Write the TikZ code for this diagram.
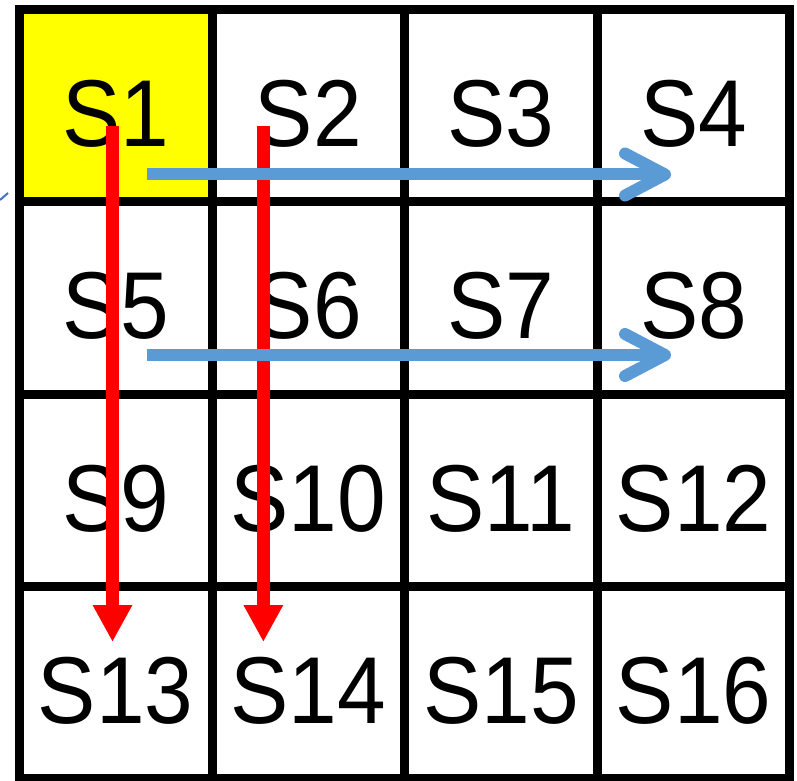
\documentclass[tikz,border=0pt]{standalone}
\usepackage{fontspec}
\setmainfont{Liberation Sans}
\usetikzlibrary{arrows.meta}
\definecolor{cellyellow}{RGB}{255,255,0}
\definecolor{moveblue}{RGB}{91,155,213}
\definecolor{stubblue}{RGB}{68,114,196}
\newcommand{\cellfont}{\fontsize{95}{95}\selectfont}
\newcommand{\lbl}[1]{\scalebox{0.92}[1]{#1}}
\begin{document}
\begin{tikzpicture}[x=1pt,y=1pt,
  cell/.style={draw, line width=9pt, minimum width=192.6pt, minimum height=192pt,
    inner sep=0pt, text height=82pt, text depth=0pt, font=\cellfont},
  down/.style={-{Triangle[length=37pt,width=37pt]}, line width=13pt, red},
  across/.style={-{Straight Barb[length=40pt,width=42pt,round]}, line width=12pt,
    moveblue}]
  \useasboundingbox (0,0) rectangle (797,780);
  % 4x4 grid of states
  \foreach \r in {0,...,3}
    \foreach \c in {1,...,4}{
      \pgfmathtruncatemacro\n{4*\r+\c}
      \node[cell] (s\n) at ({115.75+192.6*(\c-1)},{674-192*\r}) {\lbl{S\n}};
    }
  % start state
  \fill[cellyellow] ([xshift=4.5pt,yshift=-4.5pt]s1.north west) rectangle ([xshift=-4.5pt,yshift=4.5pt]s1.south east);
  \node[cell] at (s1) {\lbl{S1}};
  % moves
  \draw[down] ([xshift=-3.25pt,yshift=-20pt]s1.center) -- ([xshift=-3.25pt,yshift=40pt]s13.center);
  \draw[down] ([xshift=-45pt,yshift=-20pt]s2.center) -- ([xshift=-45pt,yshift=40pt]s14.center);
  \draw[across] ([xshift=31pt,yshift=-68.5pt]s1.center) -- ([xshift=-22.5pt,yshift=-68.5pt]s4.center);
  \draw[across] ([xshift=31pt,yshift=-57pt]s5.center) -- ([xshift=-22.5pt,yshift=-57pt]s8.center);
  \draw[stubblue, line width=2pt] (0,580) -- (8,587);
\end{tikzpicture}
\end{document}
